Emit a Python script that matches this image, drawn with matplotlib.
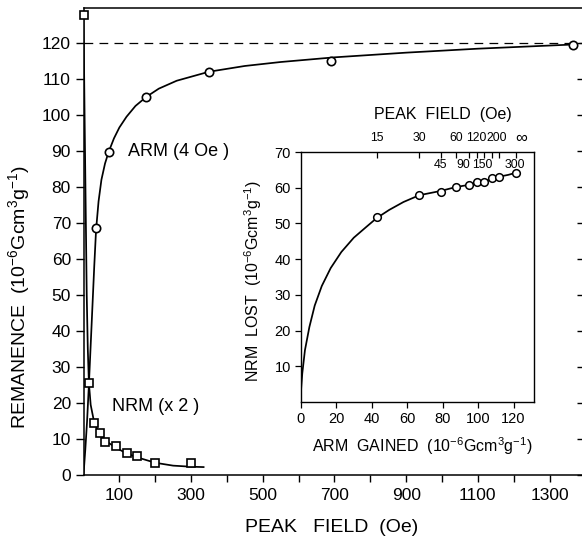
import matplotlib
matplotlib.use("Agg")
import matplotlib.pyplot as plt
from matplotlib.transforms import blended_transform_factory

plt.rcParams['font.family'] = ['Liberation Sans', 'DejaVu Sans']
plt.rcParams['mathtext.fontset'] = 'custom'
plt.rcParams['mathtext.rm'] = 'Liberation Sans'
plt.rcParams['mathtext.it'] = 'Liberation Sans:italic'
plt.rcParams['mathtext.bf'] = 'Liberation Sans:bold'

# ---------------- data ----------------
# ARM (4 Oe) acquisition, main panel
arm_field = [35, 70, 175, 350, 690, 1365]
arm_value = [68.6, 89.7, 105.0, 112.0, 115.1, 119.4]
arm_curve_x = [0, 5, 10, 15, 20, 25, 30, 35, 42, 50, 60, 70, 85, 100, 120, 145, 175,
               210, 260, 350, 450, 550, 700, 900, 1100, 1375]
arm_curve_y = [0, 7, 15, 25, 36, 47, 58, 68, 76, 82, 86.5, 89.7, 93.5, 96.5, 99.5, 102.5, 105,
               107.3, 109.5, 112, 113.6, 114.7, 116.0, 117.3, 118.4, 119.6]
arm_saturation = 120

# NRM (x2) AF demagnetisation, main panel
nrm_field = [0, 15, 30, 45, 60, 90, 120, 150, 200, 300]
nrm_value = [127.8, 25.6, 14.4, 11.6, 9.3, 8.0, 6.0, 5.2, 3.2, 3.2]
nrm_curve_x = [0, 3, 6, 9, 12, 15, 20, 30, 45, 60, 90, 120, 150, 200, 250, 300, 335]
nrm_curve_y = [127.8, 100, 75, 50, 35, 25.6, 19.5, 14.5, 11.3, 9.6, 7.6, 6.0, 4.9, 3.4, 2.6, 2.3, 2.2]

# inset: NRM lost vs ARM gained
inset_arm = [42.9, 66.9, 79.0, 87.6, 94.9, 99.6, 103.4, 107.9, 112.0, 121.4]
inset_nrm = [51.7, 58.0, 58.9, 60.3, 60.8, 61.5, 61.7, 62.7, 63.1, 64.2]
inset_field_labels = ['15', '30', '45', '60', '90', '120', '150', '200', '300', '\u221e']
inset_label_row = [0, 0, 1, 0, 1, 0, 1, 0, 1, 0]   # 0 = above box, 1 = inside box
inset_curve_x = [0, 0.4, 1, 2.5, 5, 8, 12, 17, 23, 30, 37, 42.9, 50, 58, 66.9, 79, 87.6, 94.9, 99.6, 103.4, 107.9, 112, 117, 121.4]
inset_curve_y = [0, 4, 8, 14.5, 21, 27, 32.5, 37.5, 42, 46, 49, 51.5, 53.8, 56, 57.9, 59.1, 60.2, 60.8, 61.4, 61.8, 62.5, 63.1, 63.6, 64.2]

main_xticks = [100, 300, 500, 700, 900, 1100, 1300]
main_xminor = [200, 400, 600, 800, 1000, 1200]
main_yticks = [0, 10, 20, 30, 40, 50, 60, 70, 80, 90, 100, 110, 120]
inset_xticks = [0, 20, 40, 60, 80, 100, 120]
inset_yticks = [10, 20, 30, 40, 50, 60, 70]

# ---------------- figure ----------------
W, H = 582, 542
fig = plt.figure(figsize=(W / 100, H / 100), dpi=100)

def fx(px):
    return px / W

def fy(py):
    return 1 - py / H

lw = 1.25
ax = fig.add_axes([fx(83.5), fy(475), fx(585.4) - fx(83.5), fy(8) - fy(475)])
ax.set_xlim(0, 1400)
ax.set_ylim(0, 129.7)
for s in ax.spines.values():
    s.set_linewidth(1.1)

ax.plot(arm_curve_x, arm_curve_y, color='black', lw=lw, zorder=3)
ax.plot(arm_field, arm_value, 'o', ms=6, mfc='white', mec='black', mew=1.2, zorder=4)
ax.plot(nrm_curve_x, nrm_curve_y, color='black', lw=lw, zorder=3)
ax.plot(nrm_field, nrm_value, 's', ms=6, mfc='white', mec='black', mew=1.2, zorder=4,
        clip_on=False)
ax.axhline(arm_saturation, color='black', lw=0.9, dashes=(7, 5), zorder=2)

ax.set_xticks(main_xticks)
ax.set_xticks(main_xminor, minor=True)
ax.set_yticks(main_yticks)
ax.tick_params(axis='x', which='both', direction='out', length=5, width=1, pad=4, labelsize=12.5)
ax.tick_params(axis='y', which='both', direction='out', length=6, width=1, pad=3, labelsize=12.5,
               right=True, labelright=False)
# right-hand ticks point inward
for t in ax.yaxis.get_major_ticks():
    t.tick2line.set_marker(matplotlib.lines.TICKLEFT)
    t.tick2line.set_markersize(6)

ax.text(125, 89.8, 'ARM (4 Oe )', fontsize=13, va='center', ha='left')
ax.text(80, 19, 'NRM (x 2 )', fontsize=13, va='center', ha='left')

fig.text(fx(332), fy(527), 'PEAK   FIELD  (Oe)', fontsize=14, ha='center', va='center')
fig.text(fx(19), fy(297), 'REMANENCE  (10$^{-6}$Gcm$^{3}$g$^{-1}$)', fontsize=14,
         rotation=90, ha='center', va='center')

# ---------------- inset ----------------
ins = fig.add_axes([fx(300.5), fy(402), fx(534) - fx(300.5), fy(152) - fy(402)])
ins.set_xlim(0, 131.5)
ins.set_ylim(0, 70)
for s in ins.spines.values():
    s.set_linewidth(1.0)
ins.plot(inset_curve_x, inset_curve_y, color='black', lw=lw, zorder=3)
ins.plot(inset_arm, inset_nrm, 'o', ms=5.5, mfc='white', mec='black', mew=1.1, zorder=4)
ins.set_xticks(inset_xticks)
ins.set_yticks(inset_yticks)
ins.tick_params(axis='both', direction='out', length=4, width=0.9, pad=3, labelsize=10.5)

top = ins.secondary_xaxis('top')
top.set_xticks(inset_arm)
top.set_xticklabels([''] * len(inset_arm))
top.tick_params(direction='in', length=4, width=0.9)
top.spines['top'].set_visible(False)

# small horizontal nudges (pixels) so the crowded field labels stay legible
label_nudge_px = [0, 0, 0, 0, -6, -1, -2, 5, 15, 5]
tr = blended_transform_factory(ins.transData, ins.transAxes)
for xv, lab, row, dx in zip(inset_arm, inset_field_labels, inset_label_row, label_nudge_px):
    yv = 1.055 if row == 0 else 0.948
    ins.annotate(lab, xy=(xv, yv), xycoords=tr, xytext=(dx * 0.72, 0),
                 textcoords='offset points', ha='center', va='center',
                 fontsize=12 if lab == '\u221e' else 8.8)

fig.text(fx(443), fy(114), 'PEAK  FIELD  (Oe)', fontsize=11.5, ha='center', va='center')
fig.text(fx(422), fy(446), 'ARM  GAINED  (10$^{-6}$Gcm$^{3}$g$^{-1}$)', fontsize=11.5,
         ha='center', va='center')
fig.text(fx(253), fy(281), 'NRM  LOST  (10$^{-6}$Gcm$^{3}$g$^{-1}$)', fontsize=11.5,
         rotation=90, ha='center', va='center')

fig.savefig('out.png', dpi=100)
